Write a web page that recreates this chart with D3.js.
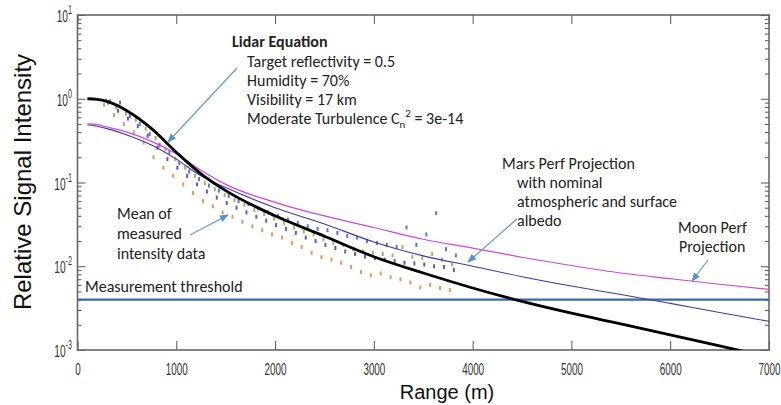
<!doctype html>
<html lang="en">
<head>
  <meta charset="utf-8">
  <title>Relative Signal Intensity vs Range</title>
  <script src="https://d3js.org/d3.v7.min.js"></script>
  <style>
    body { margin: 0; background: #fff; }
    .tick line { stroke: #555; }
    .note { font-family: Carlito, Lato, "Open Sans", sans-serif; font-size: 16px; fill: #222; }
    .axis-title { font-family: "Liberation Sans", Arial, sans-serif; fill: #111; }
    .tick-label { font-family: "Liberation Sans", Arial, sans-serif; font-size: 17px; fill: #333; }
  </style>
</head>
<body>
<svg id="chart" width="781" height="405"></svg>
<script>
  // model curves
  const curveRange = [100, 200, 300, 500, 750, 1000, 1250, 1500, 2000, 2500, 3000, 3500, 4000, 4500, 5000, 5500, 6000, 6500, 7000];
  const lidarEq = [1.0, 0.985, 0.93, 0.72, 0.44, 0.23, 0.127, 0.080, 0.040, 0.0228, 0.0130, 0.0083, 0.0055, 0.0038, 0.00275, 0.00205, 0.00152, 0.00112, 0.00082];
  const moonPerf = [0.50, 0.49, 0.46, 0.40, 0.31, 0.22, 0.14, 0.095, 0.058, 0.040, 0.029, 0.021, 0.0165, 0.0128, 0.0102, 0.0083, 0.0071, 0.0061, 0.0053];
  const marsPerf = [0.49, 0.47, 0.44, 0.37, 0.28, 0.19, 0.12, 0.087, 0.050, 0.032, 0.0195, 0.0133, 0.0100, 0.0075, 0.0058, 0.0046, 0.0036, 0.0028, 0.0022];
  const threshold = 0.004;

  // measured intensity samples
  const measRange = [300, 400, 500, 600, 700, 800, 900, 1000, 1100, 1200, 1300, 1400, 1500, 1600, 1700, 1800, 1900, 2000,
    2100, 2200, 2300, 2400, 2500, 2600, 2700, 2800, 2900, 3000, 3100, 3200, 3300, 3400, 3500, 3600, 3700, 3800];
  const measOrange = [0.85, 0.64, 0.50, 0.40, 0.30, 0.20, 0.15, 0.12, 0.095, 0.075, 0.060, 0.052, 0.044, 0.039, 0.034, 0.030, 0.027, 0.024,
    0.022, 0.019, 0.017, 0.0145, 0.0128, 0.012, 0.011, 0.0098, 0.0085, 0.0078, 0.0082, 0.0074, 0.0070, 0.0064, 0.0056, 0.0060, 0.0055, 0.0052];
  const measPurple = [0.90, 0.72, 0.58, 0.47, 0.36, 0.26, 0.19, 0.15, 0.12, 0.095, 0.078, 0.066, 0.057, 0.050, 0.044, 0.039, 0.035, 0.031,
    0.028, 0.025, 0.022, 0.020, 0.018, 0.0165, 0.015, 0.014, 0.013, 0.0125, 0.012, 0.0115, 0.011, 0.0108, 0.0105, 0.010, 0.0098, 0.009];
  const measGreen = [0.95, 0.80, 0.66, 0.56, 0.44, 0.34, 0.25, 0.19, 0.15, 0.12, 0.098, 0.083, 0.071, 0.062, 0.054, 0.047, 0.042, 0.037,
    0.033, 0.029, 0.026, 0.024, 0.021, 0.019, 0.018, 0.016, 0.015, 0.0145, 0.014, 0.0135, 0.017, 0.013, 0.0125, 0.014, 0.012, 0.0105];
  const measBlue = [0.93, 0.90, 0.62, 0.50, 0.38, 0.28, 0.23, 0.17, 0.135, 0.11, 0.092, 0.080, 0.069, 0.060, 0.055, 0.049, 0.044, 0.040,
    0.036, 0.033, 0.030, 0.028, 0.027, 0.025, 0.023, 0.022, 0.020, 0.019, 0.018, 0.017, 0.029, 0.018, 0.024, 0.043, 0.016, 0.0135];

  const xTicks = [0, 1000, 2000, 3000, 4000, 5000, 6000, 7000];
  const decades = [1e-3, 1e-2, 1e-1, 1, 10];
  const decadeExp = ['-3', '-2', '-1', '0', '1'];

  const svg = d3.select('#chart');
  const plotL = 77.5, plotR = 769, plotT = 15, plotB = 350;

  const x = d3.scaleLinear().domain([0, 7000]).range([plotL, plotR]);
  const y = d3.scaleLog().domain([1e-3, 10]).range([plotB, plotT]);

  const defs = svg.append('defs');
  defs.append('clipPath').attr('id', 'plot-clip')
    .append('rect').attr('x', plotL).attr('y', plotT).attr('width', plotR - plotL).attr('height', plotB - plotT);

  // ticks (inward, all four sides)
  const minor = y.ticks().filter(v => !decades.includes(v));

  const xb = svg.append('g').attr('transform', `translate(0,${plotB})`)
    .call(d3.axisBottom(x).tickValues(xTicks).tickFormat(d3.format('d'))
      .tickSizeInner(-9).tickSizeOuter(0).tickPadding(13));
  xb.select('.domain').remove();
  xb.selectAll('text').attr('class', 'tick-label').attr('transform', 'scale(0.58,1)');

  const xt = svg.append('g').attr('transform', `translate(0,${plotT})`)
    .call(d3.axisTop(x).tickValues(xTicks).tickSizeInner(-9).tickSizeOuter(0).tickFormat(''));
  xt.select('.domain').remove();

  [[d3.axisLeft, plotL], [d3.axisRight, plotR]].forEach(([ax, pos]) => {
    const gMin = svg.append('g').attr('transform', `translate(${pos},0)`)
      .call(ax(y).tickValues(minor).tickSizeInner(-4).tickSizeOuter(0).tickFormat(''));
    gMin.select('.domain').remove();
    const gMaj = svg.append('g').attr('transform', `translate(${pos},0)`)
      .call(ax(y).tickValues(decades).tickSizeInner(-8).tickSizeOuter(0).tickFormat(''));
    gMaj.select('.domain').remove();
  });

  // decade labels 10^n
  decades.forEach((v, i) => {
    const t = svg.append('g').attr('transform', `translate(72,${y(v) + 7}) scale(0.6,1)`)
      .append('text').attr('class', 'tick-label').attr('text-anchor', 'end');
    t.append('tspan').text('10');
    t.append('tspan').attr('dy', -8).attr('font-size', 12).text(decadeExp[i]);
  });

  // frame
  svg.append('rect').attr('x', plotL).attr('y', plotT).attr('width', plotR - plotL).attr('height', plotB - plotT)
    .attr('fill', 'none').attr('stroke', '#666').attr('stroke-width', 1.6);

  const plot = svg.append('g').attr('clip-path', 'url(#plot-clip)');

  // measured points
  const series = [
    { vals: measOrange, color: '#e8843c', dx: -3 },
    { vals: measPurple, color: '#5a32a8', dx: 1 },
    { vals: measGreen, color: '#86ad45', dx: -1 },
    { vals: measBlue, color: '#3d5fc4', dx: 3 }
  ];
  series.forEach(s => {
    plot.append('g').selectAll('rect')
      .data(measRange.map((r, i) => [r, s.vals[i]]))
      .join('rect')
      .attr('x', d => x(d[0]) + s.dx - 1)
      .attr('y', d => y(d[1]) - 2)
      .attr('width', 2)
      .attr('height', 4)
      .attr('fill', s.color)
      .attr('opacity', 0.85);
  });

  const line = vals => d3.line()
    .x((d, i) => x(curveRange[i]))
    .y(d => y(d))
    .curve(d3.curveMonotoneX)(vals);

  // threshold
  plot.append('line')
    .attr('x1', plotL).attr('x2', plotR)
    .attr('y1', y(threshold)).attr('y2', y(threshold))
    .attr('stroke', '#3d6a9e').attr('stroke-width', 2.2);

  plot.append('path').attr('d', line(marsPerf)).attr('fill', 'none').attr('stroke', '#3a3ab0').attr('stroke-width', 1.1);
  plot.append('path').attr('d', line(moonPerf)).attr('fill', 'none').attr('stroke', '#d444d4').attr('stroke-width', 1.2);
  plot.append('path').attr('d', line(lidarEq)).attr('fill', 'none').attr('stroke', '#000').attr('stroke-width', 2.8);

  // annotation arrows
  defs.append('marker').attr('id', 'arrow')
    .attr('viewBox', '0 0 10 10').attr('refX', 9).attr('refY', 5)
    .attr('markerWidth', 9).attr('markerHeight', 9).attr('markerUnits', 'userSpaceOnUse').attr('orient', 'auto')
    .append('path').attr('d', 'M0,1 L10,5 L0,9 Z').attr('fill', '#5b8fc9');

  const arrows = [
    [237, 68, 168, 142],
    [190, 235, 228, 215],
    [517, 219, 468, 262],
    [708, 260, 692, 281]
  ];
  svg.append('g').selectAll('line').data(arrows).join('line')
    .attr('x1', d => d[0]).attr('y1', d => d[1])
    .attr('x2', d => d[2]).attr('y2', d => d[3])
    .attr('stroke', '#6a9bd0').attr('stroke-width', 1.2)
    .attr('marker-end', 'url(#arrow)');

  // text notes
  const note = (tx, ty, str) => svg.append('text').attr('class', 'note').attr('x', tx).attr('y', ty).text(str);

  note(232, 47, 'Lidar Equation').attr('font-weight', 'bold').attr('font-size', 17);
  note(247, 67, 'Target reflectivity = 0.5');
  note(247, 86, 'Humidity = 70%');
  note(247, 105, 'Visibility = 17 km');
  const turb = note(247, 124, 'Moderate Turbulence C');
  turb.append('tspan').attr('dy', 4).attr('font-size', 11).text('n');
  turb.append('tspan').attr('dy', -11).attr('font-size', 11).text('2');
  turb.append('tspan').attr('dy', 7).text(' = 3e-14');

  note(117, 219, 'Mean of');
  note(117, 239, 'measured');
  note(117, 259, 'intensity data');

  note(502, 169, 'Mars Perf Projection');
  note(517, 188, 'with nominal');
  note(517, 207, 'atmospheric and surface');
  note(517, 226, 'albedo');

  note(678, 233, 'Moon Perf');
  note(679, 252, 'Projection');

  note(85, 292, 'Measurement threshold');

  // axis titles
  svg.append('text').attr('class', 'axis-title').attr('text-anchor', 'middle').attr('font-size', 20)
    .attr('x', 447).attr('y', 399).text('Range (m)');
  svg.append('text').attr('class', 'axis-title').attr('text-anchor', 'middle').attr('font-size', 24)
    .attr('transform', 'translate(31,182) rotate(-90)').text('Relative Signal Intensity');
</script>
</body>
</html>
